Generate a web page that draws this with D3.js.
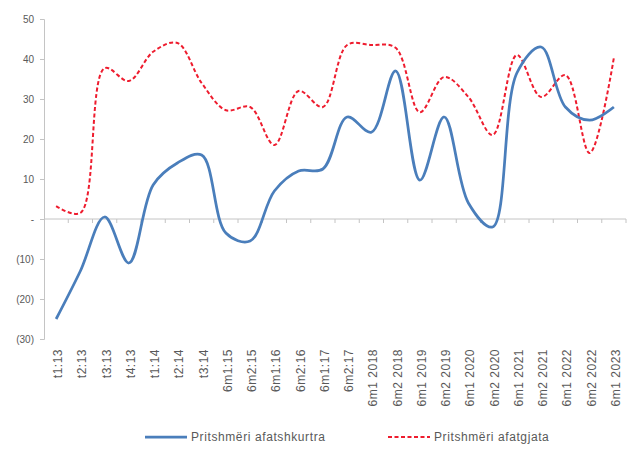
<!DOCTYPE html>
<html>
<head>
<meta charset="utf-8">
<script src="https://cdn.jsdelivr.net/npm/d3@7"></script>
<style>
  html, body { margin: 0; padding: 0; background: #fff; }
  svg { display: block; font-family: "Liberation Sans", Arial, sans-serif; }
</style>
</head>
<body>
<svg id="chart" width="635" height="460"></svg>
<script>
// Period labels on the category axis
const categories = [
  "t1:13", "t2:13", "t3:13", "t4:13", "t1:14", "t2:14", "t3:14",
  "6m1:15", "6m2:15", "6m1:16", "6m2:16", "6m1:17", "6m2:17",
  "6m1 2018", "6m2 2018", "6m1 2019", "6m2 2019", "6m1 2020", "6m2 2020",
  "6m1 2021", "6m2 2021", "6m1 2022", "6m2 2022", "6m1 2023"
];

// Short-term expectations
const shortTerm = [
  -25, -13, 0.5, -11, 8.5, 14, 16, -3.5, -5.5, 7, 12, 12.5, 25.5,
  21.7, 37, 9.7, 25.5, 4, -2, 36.5, 43, 28, 24.7, 28
];

// Long-term expectations
const longTerm = [
  3.2, 1.5, 37.7, 34.5, 41.8, 44, 34, 27.2, 28, 18.5, 32, 28, 43.5,
  43.5, 42.8, 26.7, 35.5, 30.5, 21, 41, 30.5, 36, 16.5, 40.3
];

const yTicks = [50, 40, 30, 20, 10, 0, -10, -20, -30];

const seriesNames = ["Pritshmëri afatshkurtra", "Pritshmëri afatgjata"];

const svg = d3.select("#chart");
const plot = { left: 44, right: 626, top: 19, bottom: 339 };

const x = d3.scaleBand()
  .domain(categories)
  .range([plot.left, plot.right])
  .padding(0);

const y = d3.scaleLinear()
  .domain([-30, 50])
  .range([plot.bottom, plot.top]);

const axisColor = "#c4c4c4";
const textColor = "#595959";

// value axis
const fmt = v => v === 0 ? "-" : (v < 0 ? "(" + Math.abs(v) + ")" : String(v));
const yAxis = svg.append("g")
  .attr("transform", `translate(${plot.left},0)`)
  .call(d3.axisLeft(y).tickValues(yTicks).tickFormat(fmt).tickSize(4).tickPadding(6));
yAxis.select(".domain").attr("stroke", axisColor);
yAxis.selectAll(".tick line").attr("stroke", axisColor);
yAxis.selectAll(".tick text")
  .attr("fill", textColor)
  .style("font-size", "10px");

// category axis line at zero with ticks at band boundaries
const zeroY = y(0);
svg.append("line")
  .attr("x1", plot.left).attr("x2", plot.right)
  .attr("y1", zeroY).attr("y2", zeroY)
  .attr("stroke", axisColor);
svg.append("g").selectAll("line")
  .data(categories)
  .join("line")
  .attr("x1", d => x(d) + x.bandwidth())
  .attr("x2", d => x(d) + x.bandwidth())
  .attr("y1", zeroY).attr("y2", zeroY + 4)
  .attr("stroke", axisColor);

// rotated category labels below the plot
svg.append("g").selectAll("text")
  .data(categories)
  .join("text")
  .attr("transform", d => `translate(${x(d) + x.bandwidth() / 2 + 6},${plot.bottom + 10}) rotate(-90)`)
  .attr("text-anchor", "end")
  .attr("fill", textColor)
  .style("font-size", "12px")
  .style("letter-spacing", "0.5px")
  .text(d => d);

// series lines
const line = d3.line()
  .x((d, i) => x(categories[i]) + x.bandwidth() / 2)
  .y(d => y(d))
  .curve(d3.curveCatmullRom.alpha(0.5));

svg.append("path")
  .datum(longTerm)
  .attr("d", line)
  .attr("fill", "none")
  .attr("stroke", "#ee1c2e")
  .attr("stroke-width", 2)
  .attr("stroke-dasharray", "4,2.5");

svg.append("path")
  .datum(shortTerm)
  .attr("d", line)
  .attr("fill", "none")
  .attr("stroke", "#4a7ebb")
  .attr("stroke-width", 2.75)
  .attr("stroke-linejoin", "round");

// legend
const legend = svg.append("g");
const legendItems = [
  { name: seriesNames[0], color: "#4a7ebb", dash: null, width: 2.75, x0: 145 },
  { name: seriesNames[1], color: "#ee1c2e", dash: "4,2.5", width: 2, x0: 388 }
];
legendItems.forEach(it => {
  legend.append("line")
    .attr("x1", it.x0).attr("x2", it.x0 + 42)
    .attr("y1", 437).attr("y2", 437)
    .attr("stroke", it.color)
    .attr("stroke-width", it.width)
    .attr("stroke-dasharray", it.dash);
  legend.append("text")
    .attr("x", it.x0 + 46).attr("y", 441)
    .attr("fill", textColor)
    .style("font-size", "12px")
    .style("letter-spacing", "0.6px")
    .text(it.name);
});
</script>
</body>
</html>
